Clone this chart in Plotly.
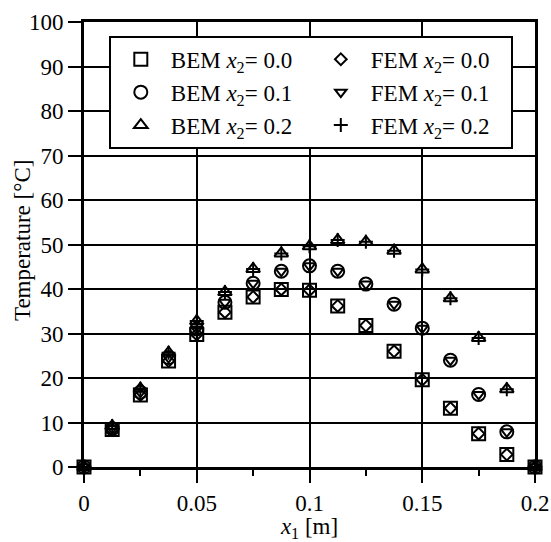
import plotly.graph_objects as go

# Distance along the plate, x1 [m]
x1 = [0.0, 0.0125, 0.025, 0.0375, 0.05, 0.0625, 0.075, 0.0875, 0.1,
      0.1125, 0.125, 0.1375, 0.15, 0.1625, 0.175, 0.1875, 0.2]

# Temperature [°C] along three lines x2 = 0.0, 0.1, 0.2
bem_x2_00 = [0, 8.4, 16.2, 23.8, 29.8, 34.8, 38.2, 39.9, 39.7,
             36.2, 31.8, 26.0, 19.6, 13.2, 7.5, 2.8, 0]
fem_x2_00 = [0, 8.4, 16.2, 23.8, 29.8, 34.8, 38.2, 39.9, 39.7,
             36.2, 31.8, 26.0, 19.6, 13.2, 7.5, 2.8, 0]
bem_x2_01 = [0, 8.6, 16.8, 24.6, 31.0, 37.0, 41.3, 44.0, 45.2,
             44.0, 41.1, 36.6, 31.2, 24.0, 16.3, 7.9, 0]
fem_x2_01 = [0, 8.6, 16.8, 24.6, 31.0, 37.0, 41.3, 44.0, 45.2,
             44.0, 41.1, 36.6, 31.2, 24.0, 16.3, 7.9, 0]
bem_x2_02 = [0, 9.2, 17.6, 25.7, 32.8, 39.3, 44.5, 48.0, 49.6,
             51.0, 50.6, 48.6, 44.4, 37.9, 29.0, 17.5, 0]
fem_x2_02 = [0, 9.2, 17.6, 25.7, 32.8, 39.3, 44.5, 48.0, 49.6,
             51.0, 50.6, 48.6, 44.4, 37.9, 29.0, 17.5, 0]

y_ticks = [0, 10, 20, 30, 40, 50, 60, 70, 80, 90, 100]
x_ticks = [0, 0.05, 0.1, 0.15, 0.2]
x_tick_text = ["0", "0.05", "0.1", "0.15", "0.2"]
x_minor_ticks = [0.025, 0.075, 0.125, 0.175]

FONT = "Liberation Serif"
BLACK = "black"
FS = 23

series = [
    ("BEM", "0.0", bem_x2_00, "square-open", 13),
    ("FEM", "0.0", fem_x2_00, "diamond-open", 9),
    ("BEM", "0.1", bem_x2_01, "circle-open", 13),
    ("FEM", "0.1", fem_x2_01, "triangle-down-open", 10),
    ("BEM", "0.2", bem_x2_02, "triangle-up-open", 12),
    ("FEM", "0.2", fem_x2_02, "cross-thin-open", 10),
]

fig = go.Figure()
for method, level, values, symbol, size in series:
    fig.add_trace(go.Scatter(
        x=x1, y=values, mode="markers",
        name=f"{method} <i>x</i><sub>2</sub>= {level}",
        marker=dict(symbol=symbol, size=size, color=BLACK,
                    line=dict(color=BLACK, width=2)),
        cliponaxis=False,
    ))

fig.update_layout(
    width=551, height=542,
    margin=dict(l=84, r=16, t=22, b=75, autoexpand=False),
    paper_bgcolor="white", plot_bgcolor="white",
    font=dict(family=FONT, size=FS, color=BLACK),
    showlegend=True,
    legend=dict(
        orientation="h",
        x=0.055, y=0.969, xanchor="left", yanchor="top",
        entrywidth=135, entrywidthmode="pixels",
        bgcolor="white", bordercolor=BLACK, borderwidth=2,
        font=dict(family=FONT, size=FS, color=BLACK),
        itemwidth=50,
    ),
    xaxis=dict(
        range=[0, 0.2], automargin=False,
        tickvals=x_ticks, ticktext=x_tick_text,
        ticks="outside", ticklen=13, tickwidth=2, tickcolor=BLACK,
        showgrid=True, gridcolor=BLACK, gridwidth=2,
        showline=True, linecolor=BLACK, linewidth=3, mirror=True,
        zeroline=False,
        minor=dict(tickvals=x_minor_ticks, ticks="outside",
                   ticklen=6, tickwidth=2, tickcolor=BLACK, showgrid=False),
        title=dict(text="<i>x</i><sub>1</sub> [m]", standoff=8,
                   font=dict(family=FONT, size=FS, color=BLACK)),
        tickfont=dict(family=FONT, size=FS, color=BLACK),
    ),
    yaxis=dict(
        range=[0, 100], automargin=False,
        tickvals=y_ticks,
        ticks="outside", ticklen=13, tickwidth=2, tickcolor=BLACK,
        showgrid=True, gridcolor=BLACK, gridwidth=2,
        showline=True, linecolor=BLACK, linewidth=3, mirror=True,
        zeroline=False,
        tickfont=dict(family=FONT, size=FS, color=BLACK),
    ),
    annotations=[dict(
        text="Temperature [°C]", textangle=-90,
        xref="paper", yref="paper", x=-0.135, y=0.508,
        xanchor="center", yanchor="middle", showarrow=False,
        font=dict(family=FONT, size=FS, color=BLACK),
    )],
)

fig.write_html("out.html")
